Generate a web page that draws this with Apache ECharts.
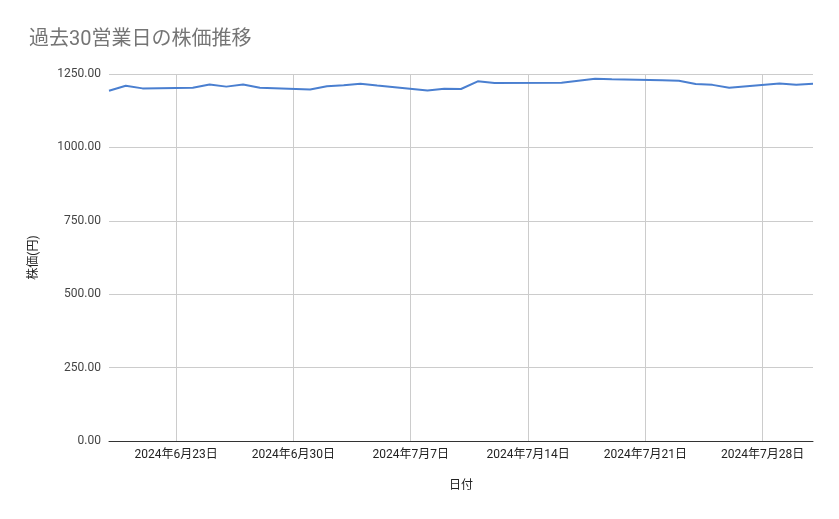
<!DOCTYPE html>
<html><head><meta charset="utf-8">
<script src="https://cdn.jsdelivr.net/npm/echarts@6/dist/echarts.min.js"></script>
<style>html,body{margin:0;padding:0;background:#fff}#c{width:839px;height:519px}</style>
</head><body><div id="c"></div>
<script>
const dates = ['2024-06-19','2024-06-20','2024-06-21','2024-06-24','2024-06-25','2024-06-26','2024-06-27','2024-06-28',
  '2024-07-01','2024-07-02','2024-07-03','2024-07-04','2024-07-05','2024-07-08','2024-07-09','2024-07-10','2024-07-11','2024-07-12',
  '2024-07-16','2024-07-17','2024-07-18','2024-07-19','2024-07-22','2024-07-23','2024-07-24','2024-07-25','2024-07-26',
  '2024-07-29','2024-07-30','2024-07-31'];
const prices = [1193,1210,1201,1203,1214,1207,1214,1203,
  1197,1208,1212,1217,1211,1194,1200,1199,1225,1219,
  1220,1227,1234,1232,1229,1227,1216,1213,1203,
  1218,1213,1217];
const tickDates = ['2024-06-23','2024-06-30','2024-07-07','2024-07-14','2024-07-21','2024-07-28'];
const yTicks = [0,250,500,750,1000,1250];

function ts(s){const p=s.split('-').map(Number);return new Date(p[0],p[1]-1,p[2]).getTime();}
const tickTs = tickDates.map(ts);
const font = "Roboto, 'Noto Sans CJK JP', sans-serif";
const chart = echarts.init(document.getElementById('c'));
chart.setOption({
  backgroundColor:'#fff',
  animation:false,
  title:{text:'過去30営業日の株価推移',left:24,top:25,textStyle:{fontSize:20,fontWeight:'normal',color:'#757575',fontFamily:font}},
  grid:{left:109,right:26,top:74,bottom:78,containLabel:false},
  xAxis:{type:'value',min:ts(dates[0]),max:ts(dates[dates.length-1]),
    name:'日付',nameLocation:'middle',nameGap:39,
    nameTextStyle:{fontSize:12,color:'#222',fontFamily:font},
    axisLine:{show:true,onZero:false,lineStyle:{color:'#333',width:1}},
    axisTick:{show:false,customValues:tickTs},
    axisLabel:{customValues:tickTs,color:'#222',fontSize:12,fontFamily:font,margin:8,
      formatter:function(v){const d=new Date(v);return d.getFullYear()+'年'+(d.getMonth()+1)+'月'+d.getDate()+'日';}},
    splitLine:{show:true,lineStyle:{color:'#cccccc',width:1}}
  },
  yAxis:{type:'value',min:0,max:1250,interval:250,
    name:'株価(円)',nameLocation:'middle',nameGap:69,
    nameTextStyle:{fontSize:12,color:'#222',fontFamily:font},
    axisLine:{show:false},axisTick:{show:false},
    axisLabel:{customValues:yTicks,color:'#444',fontSize:12,fontFamily:font,margin:8,formatter:v=>v.toFixed(2)},
    splitLine:{show:true,lineStyle:{color:'#cccccc',width:1}}
  },
  series:[{type:'line',data:dates.map((d,i)=>[ts(d),prices[i]]),showSymbol:false,symbol:'none',
    lineStyle:{color:'#4a7fd0',width:2},itemStyle:{color:'#4a7fd0'}}]
});
</script></body></html>
